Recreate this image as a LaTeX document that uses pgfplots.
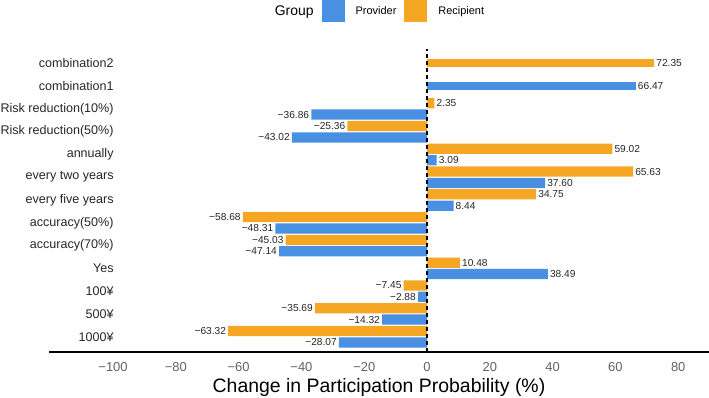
\documentclass[border=0pt]{standalone}
\usepackage{fontspec}
\setmainfont{Liberation Sans}
\usepackage{pgfplots}
\usepackage{pgfplotstable}
\pgfplotsset{compat=1.18}

\definecolor{provider}{HTML}{4A90E2}
\definecolor{recipient}{HTML}{F5A623}

% print a raw table value with a true minus sign
\makeatletter
\def\signedlabel#1{\edef\sl@tmp{#1}\expandafter\sl@split\sl@tmp\relax}
\def\sl@split#1#2\relax{\ifx-#1−#2\else#1#2\fi}
\makeatother

% category positions: 0 = 1000¥ (bottom) ... 12 = combination2 (top)
\pgfplotstableread{
pos val
0  -63.32
1  -35.69
2  -7.45
3  10.48
4  -45.03
5  -58.68
6  34.75
7  65.63
8  59.02
9  -25.36
10 2.35
}\recipienttab

\pgfplotstableread{
pos val
0  -28.07
1  -14.32
2  -2.88
3  38.49
4  -47.14
5  -48.31
6  8.44
7  37.60
8  3.09
9  -43.02
10 -36.86
}\providertab

\pgfplotstableread{
pos val
12 72.35
}\recipientcombo

\pgfplotstableread{
pos val
11 66.47
}\providercombo

\begin{document}
\begin{tikzpicture}
\path[use as bounding box] (0,0) rectangle (709bp,398bp);
\begin{axis}[
  at={(49bp,46bp)}, anchor=south west,
  scale only axis, width=660bp, height=303bp,
  xmin=-120.4, xmax=89.8, ymin=-0.672, ymax=12.63,
  xbar, bar width=0.45,
  axis x line*=bottom, axis y line*=left,
  x axis line style={-, line width=1.5bp, black},
  y axis line style={draw=none},
  tick style={draw=none},
  clip=false,
  ytick={0,...,12},
  yticklabels={1000¥,500¥,100¥,Yes,accuracy(70\%),accuracy(50\%),every five years,every two years,annually,Risk reduction(50\%),Risk reduction(10\%),combination1,combination2},
  yticklabel style={anchor=east, inner sep=0pt, xshift=69bp, font=\fontsize{12.6}{14}\selectfont, text=black!85},
  xtick={-100,-80,...,80},
  xticklabels={−100,−80,−60,−40,−20,0,20,40,60,80},
  xticklabel style={anchor=base, inner sep=0pt, yshift=-19bp, font=\fontsize{13}{15}\selectfont, text=black!62},
  xlabel={Change in Participation Probability (\%)},
  xlabel style={at={(axis description cs:0.5,0)}, anchor=base, yshift=-40bp, font=\fontsize{19.5}{22}\selectfont},
  point meta=explicit symbolic,
  visualization depends on={rawx \as \xv},
  nodes near coords={\signedlabel{\pgfplotspointmeta}},
  every node near coord/.append style={font=\fontsize{10.2}{12}\selectfont, inner sep=2bp, text=black!85,
    anchor=\ifdim\xv pt<0pt east\else west\fi},
  legend columns=-1,
  legend style={at={(0.4924,1.125)}, anchor=center, draw=none, fill=none,
    font=\fontsize{11}{13}\selectfont, nodes={inner sep=0pt},
    /tikz/every odd column/.append style={column sep=11bp},
    /tikz/every even column/.append style={column sep=8bp}},
  legend image code/.code={\fill[#1] (0bp,-11bp) rectangle (23bp,11bp);},
]
\addlegendimage{empty legend}
\addlegendentry{\fontsize{14}{16}\selectfont Group}

\addplot[fill=provider, draw=none, bar shift=-0.25] table[x=val, y=pos, meta=val] {\providertab};
\addlegendentry{Provider}
\addplot[fill=recipient, draw=none, bar shift=0.25] table[x=val, y=pos, meta=val] {\recipienttab};
\addlegendentry{Recipient}

\addplot[forget plot, fill=provider, draw=none, bar shift=0, bar width=0.34] table[x=val, y=pos, meta=val] {\providercombo};
\addplot[forget plot, fill=recipient, draw=none, bar shift=0, bar width=0.34] table[x=val, y=pos, meta=val] {\recipientcombo};

% reference line at zero change
\draw[black, line width=1.2bp, dash pattern=on 4bp off 3bp] (axis cs:0,-0.672) -- (axis cs:0,12.63);
\end{axis}
\end{tikzpicture}
\end{document}
